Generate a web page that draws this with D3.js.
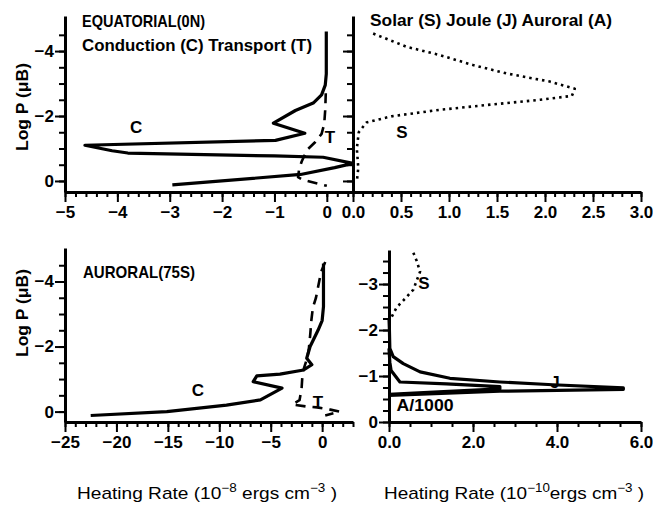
<!DOCTYPE html>
<html>
<head>
<meta charset="utf-8">
<script src="https://cdn.jsdelivr.net/npm/d3@7"></script>
<style>
    body { margin: 0; background: #fff; }
    svg text { font-family: "Liberation Sans", Arial, sans-serif; font-weight: bold; fill: #000; }
    .tick text { font-size: 17px; }
    .axis-title { font-weight: normal; font-size: 17px; }
</style>
</head>
<body>
<div id="chart"></div>
<script>
// Equatorial (0N): heating rates in 1e-8 ergs cm-3 against log P
var eqConduction = [[-0.01, -4.6], [-0.01, -3.3], [-0.03, -2.95], [-0.1, -2.65], [-0.26, -2.4], [-0.6, -2.17],
    [-1.02, -1.78], [-0.42, -1.47], [-0.98, -1.25], [-4.62, -1.1], [-4.1, -0.93], [-3.8, -0.86], [-1.0, -0.77],
    [-0.07, -0.73], [0.5, -0.54], [0.15, -0.41], [-0.5, -0.2], [-2.95, 0.12]];
var eqTransport = [[-0.02, -2.7], [-0.03, -2.2], [-0.05, -1.75], [-0.1, -1.45], [-0.22, -1.2], [-0.38, -0.95],
    [-0.48, -0.6], [-0.53, -0.35], [-0.55, -0.12], [-0.45, -0.03], [-0.2, 0.07], [0.0, 0.15]];
// Equatorial solar heating, 1e-10 ergs cm-3
var eqSolar = [[0.21, -4.54], [0.56, -4.13], [0.9, -3.88], [1.25, -3.57], [1.6, -3.31], [2.05, -3.06],
    [2.31, -2.84], [2.28, -2.62], [1.95, -2.5], [1.43, -2.35], [0.9, -2.19], [0.4, -1.99], [0.14, -1.8],
    [0.06, -1.5], [0.04, -1.0], [0.055, -0.4], [0.04, 0.02]];

// Auroral (75S): heating rates in 1e-8 ergs cm-3
var aurConduction = [[0.13, -4.55], [0.13, -4.0], [0.13, -3.23], [0.0, -2.8], [-0.4, -2.5], [-1.17, -2.0],
    [-1.5, -1.64], [-1.0, -1.44], [-1.8, -1.28], [-4.1, -1.15], [-6.35, -1.1], [-6.7, -0.92], [-3.9, -0.72],
    [-6.0, -0.36], [-9.3, -0.2], [-15.1, 0.0], [-22.5, 0.12]];
var aurTransport = [[0.3, -4.6], [-0.1, -4.3], [-0.6, -3.5], [-0.9, -3.2], [-1.05, -2.8], [-1.15, -2.4],
    [-1.3, -1.9], [-1.5, -1.6], [-1.9, -1.2], [-2.0, -0.7], [-2.2, -0.35], [-2.9, -0.22], [-1.6, -0.16],
    [-0.5, -0.13], [0.8, -0.06], [1.7, 0.0], [0.3, 0.12]];
// Auroral solar, joule and auroral (/1000) heating, 1e-10 ergs cm-3
var aurSolar = [[0.58, -3.68], [0.66, -3.5], [0.74, -3.27], [0.58, -2.88], [0.38, -2.68], [0.18, -2.49], [0.06, -2.28]];
var aurJoule = [[0, -2.25], [0.01, -2.0], [0.02, -1.6], [0.1, -1.42], [0.34, -1.27], [0.74, -1.09],
    [1.45, -0.95], [2.64, -0.87], [3.9, -0.81], [5.58, -0.74], [5.58, -0.71], [2.64, -0.67], [0, -0.58]];
var aurAuroral = [[0, -1.6], [0.02, -1.3], [0.05, -1.12], [0.26, -0.87], [1.37, -0.83], [2.64, -0.77],
    [2.64, -0.72], [1.3, -0.66], [0, -0.6]];

// Tick labels
var tlTicks = [-5, -4, -3, -2, -1, 0];
var trTicks = [0, 0.5, 1, 1.5, 2, 2.5, 3];
var blTicks = [-25, -20, -15, -10, -5, 0];
var brTicks = [0, 2, 4, 6];
var logPTicks = [-4, -2, 0];
var brLogPTicks = [-3, -2, -1, 0];

const width = 653;
const height = 507;

const svg = d3.select('#chart').append('svg')
    .attr('width', width)
    .attr('height', height);

// Scales for the four panels
var xTL = d3.scaleLinear().domain([-5, 0.5]).range([65, 353]);
var xTR = d3.scaleLinear().domain([0, 3]).range([353, 641]);
var xBL = d3.scaleLinear().domain([-25, 3]).range([65, 353]);
var xBR = d3.scaleLinear().domain([0, 6]).range([389, 641]);
var yTop = d3.scaleLinear().domain([0.34, -5.08]).range([192, 16]);
var yBL = d3.scaleLinear().domain([0.32, -5.03]).range([422, 248]);
var yBR = d3.scaleLinear().domain([0, -3.74]).range([422, 250]);

function steps(a, b, s) {
    return d3.range(Math.round((b - a) / s) + 1).map(i => +(a + i * s).toFixed(3));
}

function styleAxis(g) {
    g.attr('font-size', null).attr('font-family', null);
    g.select('.domain').attr('stroke-width', 3);
    g.selectAll('.tick line').attr('stroke-width', 2);
}

// Horizontal axis with minor and labelled major ticks
function xAxis(scale, y, major, minor, fmt) {
    svg.append('g')
        .attr('transform', 'translate(0,' + y + ')')
        .call(d3.axisBottom(scale).tickValues(minor).tickSize(5).tickFormat('').tickSizeOuter(0))
        .call(styleAxis)
        .call(g => g.select('.domain').remove());
    svg.append('g')
        .attr('transform', 'translate(0,' + y + ')')
        .call(d3.axisBottom(scale).tickValues(major).tickSize(10).tickPadding(4).tickFormat(fmt).tickSizeOuter(0))
        .call(styleAxis);
}

// Vertical axis, ticks pointing left
function yAxis(scale, x, major, minor, showLabels) {
    svg.append('g')
        .attr('transform', 'translate(' + x + ',0)')
        .call(d3.axisLeft(scale).tickValues(minor).tickSize(6).tickFormat('').tickSizeOuter(0))
        .call(styleAxis)
        .call(g => g.select('.domain').remove());
    svg.append('g')
        .attr('transform', 'translate(' + x + ',0)')
        .call(d3.axisLeft(scale).tickValues(major).tickSize(10).tickPadding(1)
            .tickFormat(showLabels ? d3.format('d') : '').tickSizeOuter(0))
        .call(styleAxis);
}

xAxis(xTL, 192, tlTicks, steps(-5, 0.4, 0.2), d3.format('d'));
xAxis(xTR, 192, trTicks, steps(0, 3, 0.1), d3.format('.1f'));
xAxis(xBL, 422, blTicks, steps(-25, 3, 1), d3.format('d'));
xAxis(xBR, 422, brTicks, steps(0, 6, 0.5), d3.format('.1f'));

yAxis(yTop, 65, logPTicks, steps(-4.5, 0, 0.5), true);
yAxis(yTop, 353, logPTicks, steps(-4.5, 0, 0.5), false);
yAxis(yBL, 65, logPTicks, steps(-4.5, 0, 0.5), true);
yAxis(yBR, 389, brLogPTicks, steps(-3.5, 0, 0.25), true);

// Profile lines
function drawLine(data, xs, ys, kind) {
    var line = d3.line().x(d => xs(d[0])).y(d => ys(d[1]));
    var path = svg.append('path')
        .datum(data)
        .attr('d', line)
        .attr('fill', 'none')
        .attr('stroke', 'black')
        .attr('stroke-linejoin', 'round');
    if (kind === 'solid') path.attr('stroke-width', 3.2);
    if (kind === 'dash') path.attr('stroke-width', 2.6).attr('stroke-dasharray', '10,7');
    if (kind === 'dot') path.attr('stroke-width', 2.6).attr('stroke-dasharray', '2.5,4');
}

drawLine(eqConduction, xTL, yTop, 'solid');
drawLine(eqTransport, xTL, yTop, 'dash');
drawLine(eqSolar, xTR, yTop, 'dot');
drawLine(aurConduction, xBL, yBL, 'solid');
drawLine(aurTransport, xBL, yBL, 'dash');
drawLine(aurSolar, xBR, yBR, 'dot');
drawLine(aurJoule, xBR, yBR, 'solid');
drawLine(aurAuroral, xBR, yBR, 'solid');

// Curve letters, placed in data coordinates
function curveLabel(txt, xs, ys, x, y, len) {
    var t = svg.append('text')
        .attr('x', xs(x))
        .attr('y', ys(y))
        .attr('dy', '0.35em')
        .attr('text-anchor', 'middle')
        .style('font-size', '17px')
        .text(txt);
    if (len) t.attr('textLength', len).attr('lengthAdjust', 'spacingAndGlyphs');
}
curveLabel('C', xTL, yTop, -3.64, -1.66);
curveLabel('T', xTL, yTop, 0.06, -1.35);
curveLabel('S', xTR, yTop, 0.51, -1.51);
curveLabel('C', xBL, yBL, -12.07, -0.67);
curveLabel('T', xBL, yBL, -0.4, -0.3);
curveLabel('S', xBR, yBR, 0.83, -3.02);
curveLabel('J', xBR, yBR, 3.95, -0.86);
curveLabel('A/1000', xBR, yBR, 0.86, -0.37, 57);

// Panel titles
function title(txt, x, y, len) {
    svg.append('text')
        .attr('x', x)
        .attr('y', y)
        .attr('dy', '0.35em')
        .attr('textLength', len)
        .attr('lengthAdjust', 'spacingAndGlyphs')
        .style('font-size', '17px')
        .text(txt);
}
title('EQUATORIAL(0N)', 82, 21, 123);
title('Conduction (C) Transport (T)', 82, 45, 230);
title('Solar (S) Joule (J) Auroral (A)', 370, 20, 242);
title('AURORAL(75S)', 83, 272, 112);

// Y axis titles
[107, 313].forEach(function(cy) {
    svg.append('text')
        .attr('transform', 'translate(22,' + cy + ') rotate(-90)')
        .attr('text-anchor', 'middle')
        .attr('dy', '0.35em')
        .attr('textLength', 88)
        .attr('lengthAdjust', 'spacingAndGlyphs')
        .style('font-size', '17px')
        .text('Log P (\u03bcB)');
});

// X axis titles with superscripts
function xTitle(x0, exp, gap) {
    var t = svg.append('text')
        .attr('class', 'axis-title')
        .attr('x', x0)
        .attr('y', 499)
        .attr('textLength', 260)
        .attr('lengthAdjust', 'spacingAndGlyphs');
    t.append('tspan').text('Heating Rate (10');
    t.append('tspan').attr('dy', -7).style('font-size', '12px').text(exp);
    t.append('tspan').attr('dy', 7).text(gap + 'ergs cm');
    t.append('tspan').attr('dy', -7).style('font-size', '12px').text('\u22123');
    t.append('tspan').attr('dy', 7).text(' )');
}
xTitle(77, '\u22128', ' ');
xTitle(384, '\u221210', '');
</script>
</body>
</html>
